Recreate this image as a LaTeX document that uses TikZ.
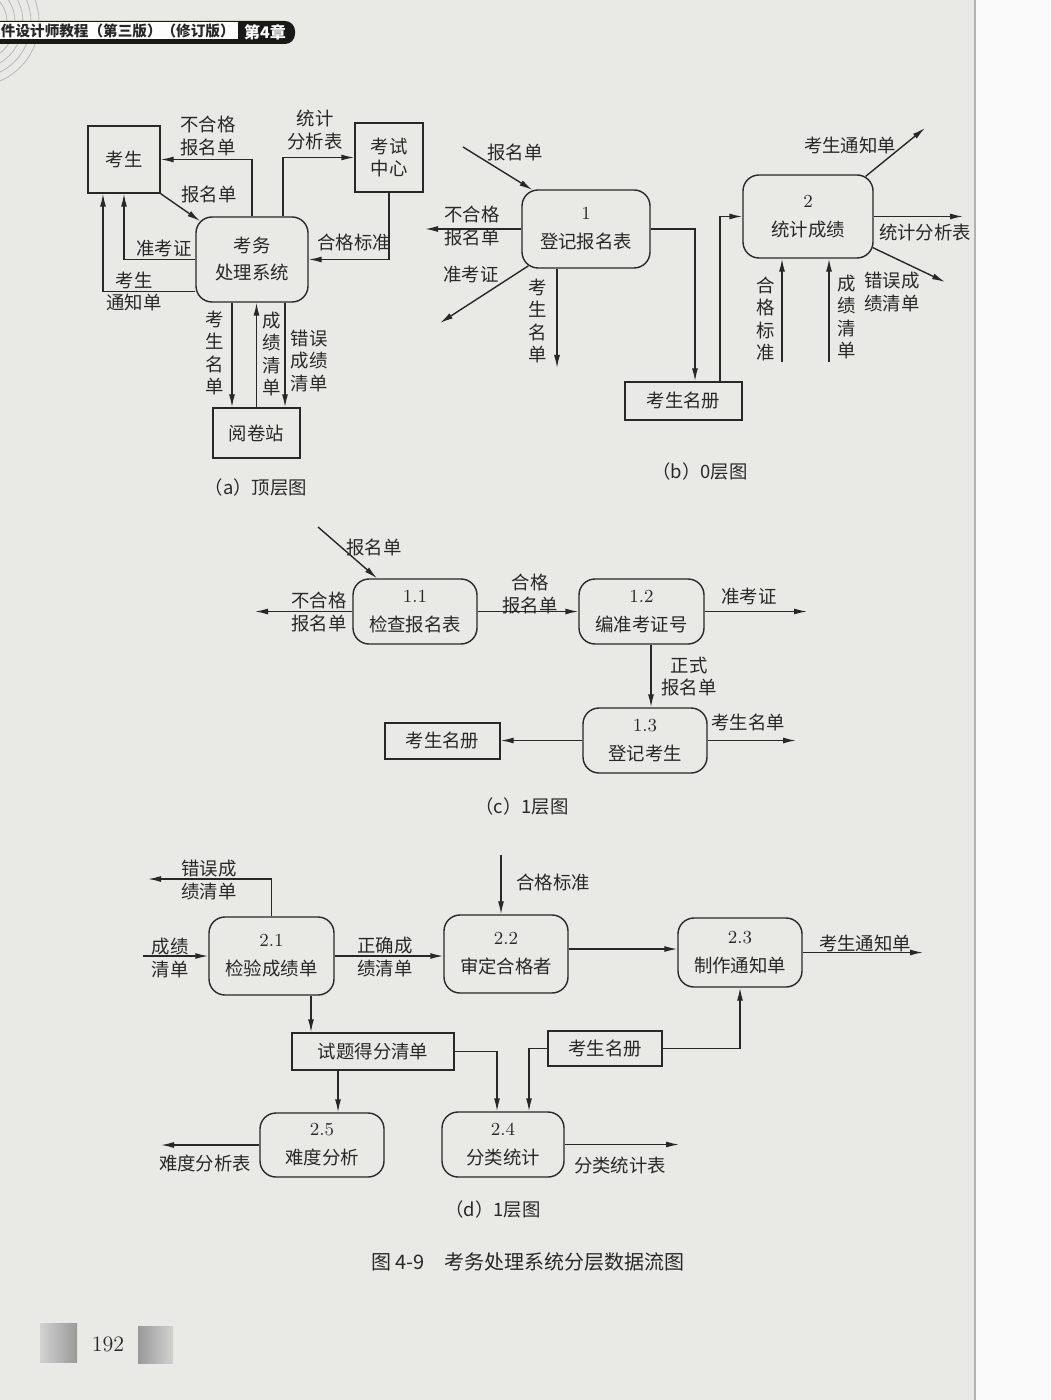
\documentclass[tikz,border=0pt]{standalone}
\usepackage{fontspec}
\newfontfamily\cjk{Noto Sans CJK SC}
\usetikzlibrary{arrows.meta}

\definecolor{paper}{RGB}{233,233,230}
\definecolor{ink}{RGB}{40,40,40}

\tikzset{
	flow/.style={draw=ink, line width=0.7pt, -{Latex[length=6.5pt,width=3pt]}},
	proc/.style={draw=ink, line width=0.7pt, rounded corners=8pt, align=center, inner sep=0pt,
		font=\cjk\fontsize{9.2}{14.5}\selectfont, text=ink},
	ent/.style={draw=ink, line width=0.7pt, align=center, inner sep=0pt, text=ink},
	lbl/.style={align=center, inner sep=0pt, text=ink},
	captxt/.style={inner sep=0pt, text=ink},
}

\begin{document}
\begin{tikzpicture}[x=0.5pt, y=-0.5pt, font=\cjk\fontsize{9.2}{11.3}\selectfont]
	\useasboundingbox (0,0) rectangle (1050,1400);
	\fill[paper] (0,0) rectangle (1050,1400);
	\fill[white!95!gray] (975,0) rectangle (1050,1400);
	\draw[gray!60, line width=0.6pt] (975,0) -- (975,1400);

	% page header
	\begin{scope}
		\clip (0,0) rectangle (1050,1400);
		\draw[gray!55, line width=0.4pt] (-25,22) circle (32);
		\draw[gray!55, line width=0.4pt] (-25,22) circle (40);
		\draw[gray!55, line width=0.4pt] (-25,22) circle (48);
		\draw[gray!55, line width=0.4pt] (-25,22) circle (56);
		\draw[gray!55, line width=0.4pt] (-25,22) circle (64);
		\fill[black!90, rounded corners=5pt] (-20,21) rectangle (295,44);
		\fill[white!92!paper] (-20,22) rectangle (238,39.5);
	\end{scope}
	\node[captxt, anchor=east, font=\cjk\fontsize{7.3}{9}\selectfont\bfseries] (hd) at (235,31) {件设计师教程（第三版）（修订版）};
	\node[inner sep=0pt, text=white, font=\cjk\fontsize{8}{10}\selectfont\bfseries] (ch) at (265,32) {第4章};

	% (a) top level
	\node[ent, minimum width=36pt, minimum height=33.5pt] (ks) at (124,159.5) {考生};
	\node[ent, minimum width=34pt, minimum height=34.5pt] (kszx) at (389,157.5) {考试\\中心};
	\node[proc, minimum width=56pt, minimum height=42.5pt, font=\cjk\fontsize{9.2}{13.5}\selectfont] (sys) at (252,259.5) {考务\\处理系统};
	\node[ent, minimum width=43.5pt, minimum height=25pt] (yjz) at (256.5,433) {阅卷站};

	\coordinate (a1) at ([xshift=-10pt]sys.south);
	\coordinate (a2) at ([xshift=16.5pt]sys.south);

	\draw[flow] (sys.north) |- (ks.east);
	\draw[flow] (ks.south east) -- ([shift={(2.4pt,-2.4pt)}]sys.north west);
	\draw[flow] ([xshift=15.5pt]sys.north) |- (kszx.west);
	\draw[flow] (kszx.south) |- (sys.east);
	\draw[flow] (sys.west) -| (ks.south);
	\draw[flow] ([yshift=-16pt]sys.west) -| ([xshift=-10.5pt]ks.south);
	\draw[flow] (a1) -- (a1 |- yjz.north);
	\draw[flow] (yjz.north) -- (yjz.north |- sys.south);
	\draw[flow] (a2) -- (a2 |- yjz.north);

	\node[lbl] (la1) at (208,136) {不合格\\报名单};
	\node[lbl] (la2) at (209,195) {报名单};
	\node[lbl] (la3) at (315,130) {统计\\分析表};
	\node[lbl] (la4) at (354,242) {合格标准};
	\node[lbl] (la5) at (164,249) {准考证};
	\node[lbl] (la6) at (134,291.5) {考生\\通知单};
	\node[lbl] (la7) at (215,353) {考\\生\\名\\单};
	\node[lbl] (la8) at (272,354) {成\\绩\\清\\单};
	\node[lbl] (la9) at (309,361) {错误\\成绩\\清单};
	\node[captxt] (ca) at (256,488) {（a）顶层图};

	% (b) level 0
	\node[proc, minimum width=64pt, minimum height=39pt] (p1) at (586,229) {{\rmfamily 1}\\登记报名表};
	\node[proc, minimum width=65pt, minimum height=41.5pt] (p2) at (808,216.5) {{\rmfamily 2}\\统计成绩};
	\node[ent, minimum width=58.5pt, minimum height=19pt] (st1) at (683.5,401) {考生名册};

	\coordinate (b1) at (463,147);
	\coordinate (b2) at (425,229);
	\coordinate (b3) at (440,323);
	\coordinate (b5) at (557,368);
	\coordinate (b6) at ([xshift=5.75pt]st1.north);
	\coordinate (b7) at ([xshift=18.25pt]st1.north);
	\coordinate (b8) at (925,128);
	\coordinate (b9) at (963,216.5);
	\coordinate (b10) at (945,282);
	\coordinate (b11) at (782,362);
	\coordinate (b12) at (829,362);

	\draw[flow] (b1) -- ([shift={(5.5pt,-0.3pt)}]p1.north west);
	\draw[flow] (p1.west) -- (b2);
	\draw[flow] ([shift={(3.5pt,1.4pt)}]p1.south west) -- (b3);
	\draw[flow] ([xshift=-14.5pt]p1.south) -- (b5);
	\draw[flow] (p1.east) -| (b6);
	\draw[flow] (b7) |- (p2.west);
	\draw[flow] ([shift={(-4pt,-1pt)}]p2.north east) -- (b8);
	\draw[flow] (p2.east) -- (b9);
	\draw[flow] ([shift={(-0.4pt,5.5pt)}]p2.south east) -- (b10);
	\draw[flow] (b11) -- (b11 |- p2.south);
	\draw[flow] (b12) -- (b12 |- p2.south);

	\node[lbl] (lb1) at (515,153) {报名单};
	\node[lbl] (lb2) at (472,226) {不合格\\报名单};
	\node[lbl] (lb3) at (471,275) {准考证};
	\node[lbl] (lb4) at (538,321) {考\\生\\名\\单};
	\node[lbl] (lb5) at (850,145) {考生通知单};
	\node[lbl] (lb6) at (925,233) {统计分析表};
	\node[lbl] (lb7) at (892,292) {错误成\\绩清单};
	\node[lbl] (lb8) at (766,319) {合\\格\\标\\准};
	\node[lbl] (lb9) at (847,317) {成\\绩\\清\\单};
	\node[captxt] (cb) at (700,472) {（b）0层图};

	% (c) level 1, process 1
	\node[proc, minimum width=62pt, minimum height=32.5pt] (p11) at (415,611.5) {{\rmfamily 1.1}\\检查报名表};
	\node[proc, minimum width=62.5pt, minimum height=32.5pt] (p12) at (641.5,611.5) {{\rmfamily 1.2}\\编准考证号};
	\node[proc, minimum width=62pt, minimum height=32.5pt] (p13) at (645,740.5) {{\rmfamily 1.3}\\登记考生};
	\node[ent, minimum width=57.5pt, minimum height=18pt] (st2) at (442.5,741) {考生名册};

	\coordinate (c1) at (318,527);
	\coordinate (c2) at (255,611.5);
	\coordinate (c3) at (807,611.5);
	\coordinate (c4) at ([xshift=4.75pt]p12.south);
	\coordinate (c5) at (796,740.5);

	\draw[flow] (c1) -- ([xshift=-19pt]p11.north);
	\draw[flow] (p11.west) -- (c2);
	\draw[flow] (p11.east) -- (p12.west);
	\draw[flow] (p12.east) -- (c3);
	\draw[flow] (c4) -- (c4 |- p13.north);
	\draw[flow] (p13.west) -- (p13.west -| st2.east);
	\draw[flow] (p13.east) -- (c5);

	\node[lbl] (lc1) at (374,547) {报名单};
	\node[lbl] (lc2) at (319,612) {不合格\\报名单};
	\node[lbl] (lc3) at (530,594) {合格\\报名单};
	\node[lbl] (lc4) at (749,597) {准考证};
	\node[lbl] (lc5) at (689,676.5) {正式\\报名单};
	\node[lbl] (lc6) at (748,722) {考生名单};
	\node[captxt] (cc) at (522,807) {（c）1层图};

	% (d) level 1, process 2
	\node[proc, minimum width=62.5pt, minimum height=39pt] (p21) at (271.5,956) {{\rmfamily 2.1}\\检验成绩单};
	\node[proc, minimum width=62pt, minimum height=39pt] (p22) at (506,954) {{\rmfamily 2.2}\\审定合格者};
	\node[proc, minimum width=62pt, minimum height=34.5pt] (p23) at (740,952.5) {{\rmfamily 2.3}\\制作通知单};
	\node[ent, minimum width=81pt, minimum height=18.5pt] (st3) at (373,1051.5) {试题得分清单};
	\node[ent, minimum width=57pt, minimum height=17.5pt] (st4) at (605,1048.5) {考生名册};
	\node[proc, minimum width=62pt, minimum height=32pt] (p25) at (322,1145) {{\rmfamily 2.5}\\难度分析};
	\node[proc, minimum width=61pt, minimum height=32.5pt] (p24) at (503,1144.5) {{\rmfamily 2.4}\\分类统计};

	\coordinate (d1) at (143,956);
	\coordinate (d2) at (148,879);
	\coordinate (d3) at (501,855);
	\coordinate (d4) at (923,952.5);
	\coordinate (d5) at ([xshift=19.75pt]p21.south);
	\coordinate (d6) at ([xshift=-17.5pt]st3.south);
	\coordinate (d7) at ([xshift=-3pt]p24.north);
	\coordinate (d8) at ([xshift=13pt]p24.north);
	\coordinate (d9) at (161,1145);
	\coordinate (d10) at (679,1144.5);
	\coordinate (d11) at ([yshift=2.5pt]p22.east);

	\draw[flow] (d1) -- (p21.west);
	\draw[flow] (p21.north) |- (d2);
	\draw[flow] (p21.east) -- (p21.east -| p22.west);
	\draw[flow] (d3) -- (d3 |- p22.north);
	\draw[flow] (d11) -- (d11 -| p23.west);
	\draw[flow] (p23.east) -- (d4);
	\draw[flow] (d5) -- (d5 |- st3.north);
	\draw[flow] (d6) -- (d6 |- p25.north);
	\draw[flow] (st3.east) -| (d7);
	\draw[flow] (st4.west) -| (d8);
	\draw[flow] (st4.east) -| (p23.south);
	\draw[flow] (p25.west) -- (d9);
	\draw[flow] (p24.east) -- (d10);

	\node[lbl] (ld1) at (170,958) {成绩\\清单};
	\node[lbl] (ld2) at (209,880) {错误成\\绩清单};
	\node[lbl] (ld3) at (385,957) {正确成\\绩清单};
	\node[lbl] (ld4) at (553,882) {合格标准};
	\node[lbl] (ld5) at (865,943) {考生通知单};
	\node[lbl] (ld6) at (205,1163) {难度分析表};
	\node[lbl] (ld7) at (620,1165) {分类统计表};
	\node[captxt] (cd) at (493,1209) {（d）1层图};
	\node[captxt, font=\cjk\fontsize{10}{12}\selectfont] (fig) at (528,1262) {图\,4-9\quad 考务处理系统分层数据流图};

	% page number
	\shade[left color=gray!35, right color=gray!80] (40,1323) rectangle (77,1362);
	\shade[left color=gray!80, right color=gray!35] (138,1326) rectangle (173,1363);
	\node[captxt, font=\rmfamily\fontsize{11}{13}\selectfont] (pg) at (108,1344) {192};
\end{tikzpicture}
\end{document}
